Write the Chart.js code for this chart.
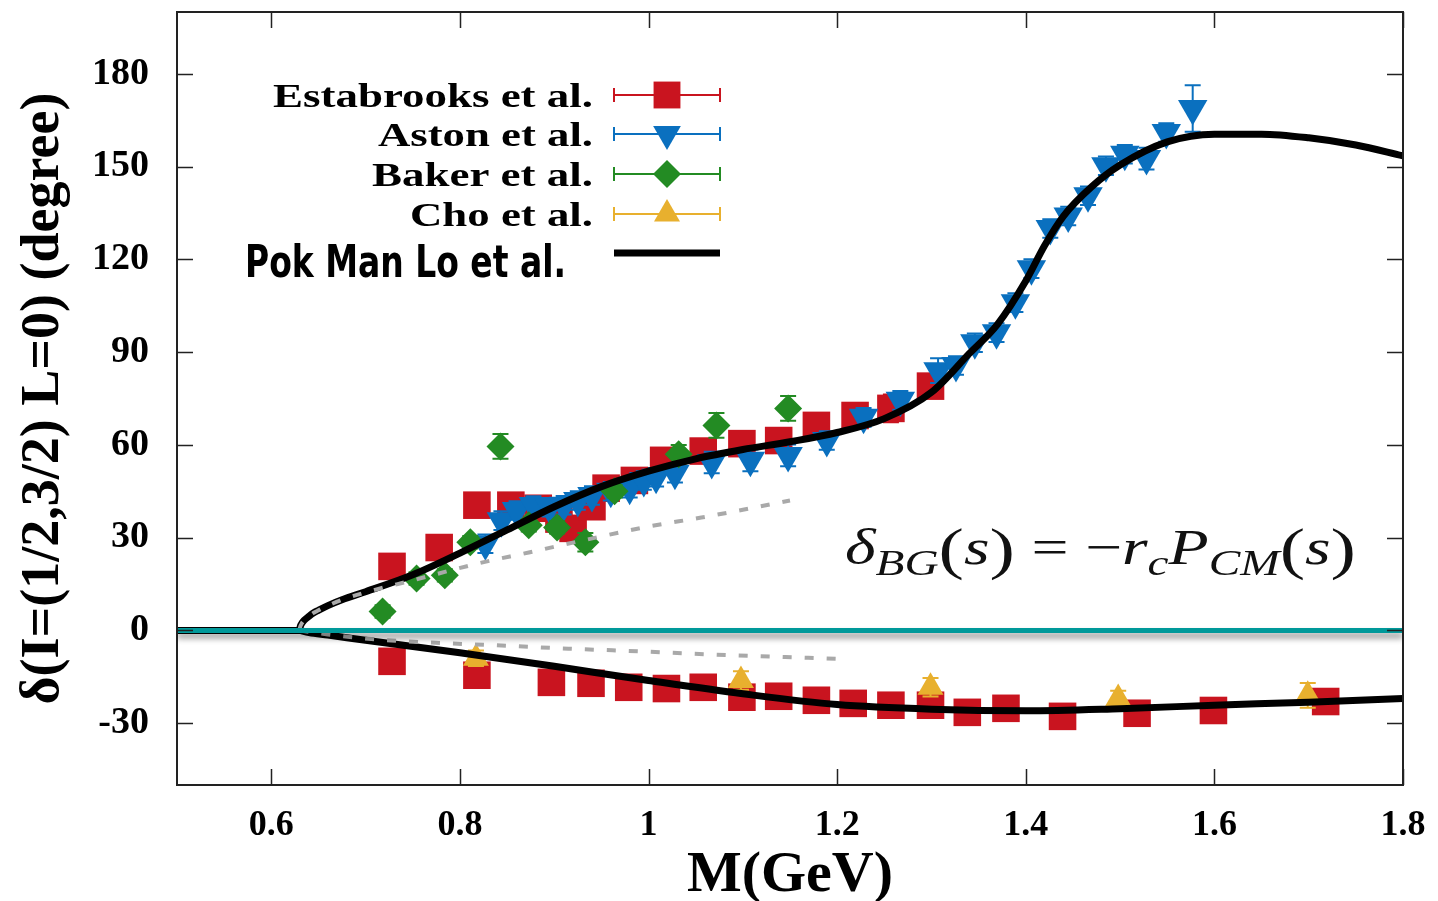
<!DOCTYPE html>
<html>
<head>
<meta charset="utf-8">
<script src="https://cdn.jsdelivr.net/npm/chart.js@4.4.1/dist/chart.umd.min.js"></script>
<style>
  html, body { margin: 0; padding: 0; background: #fff; }
</style>
</head>
<body>
<canvas id="phaseChart" width="1438" height="901"></canvas>
<script>
// axis ticks
var xTicks = [0.6, 0.8, 1.0, 1.2, 1.4, 1.6, 1.8];
var yTicks = [-30, 0, 30, 60, 90, 120, 150, 180];

// Estabrooks et al. (upper branch then lower branch)
var estabrooksM = [0.728, 0.778, 0.818, 0.854, 0.883, 0.905, 0.92, 0.94, 0.955, 0.985, 1.016, 1.058, 1.099, 1.138, 1.178, 1.219, 1.257, 1.299,
  0.728, 0.818, 0.897, 0.939, 0.979, 1.019, 1.058, 1.099, 1.138, 1.178, 1.217, 1.257, 1.299, 1.338, 1.379, 1.439, 1.518, 1.599, 1.718];
var estabrooksDeg = [20.7, 26.8, 40.5, 40.5, 39.5, 36, 33, 40, 46, 48.5, 55, 58, 60.4, 61.4, 66.3, 69.5, 71.8, 79,
  -10, -14.5, -16.8, -17.1, -18.4, -18.8, -18.4, -21.6, -21.3, -22.6, -23.6, -24.2, -24.2, -26.5, -25.2, -27.8, -26.8, -25.9, -23];
var estabrooksErr = [2, 2, 2, 2, 2, 2, 2, 2, 2, 2, 2, 2, 2, 2, 2, 2, 4.5, 2,
  2, 2, 2, 2, 2, 2, 2, 2, 2, 2, 2, 2, 2, 2, 2, 2, 2, 2, 2];

// Aston et al.
var astonM = [0.827, 0.844, 0.86, 0.878, 0.895, 0.91, 0.925, 0.94, 0.96, 0.98, 0.995, 1.008, 1.028, 1.067, 1.108, 1.148, 1.189, 1.228,
  1.267, 1.307, 1.326, 1.346, 1.369, 1.389, 1.406, 1.426, 1.445, 1.466, 1.485, 1.505, 1.528, 1.549, 1.577];
var astonDeg = [28, 35.5, 38.8, 40.4, 39.8, 40.5, 42, 43.6, 45, 46, 48.5, 49.5, 50.8, 54.3, 55, 56.6, 61.4, 68.9,
  74.4, 84, 85.7, 93, 96.3, 106, 117, 130, 134, 140.6, 150.3, 154, 152.6, 161, 168.8];
var astonErr = [3, 3, 3, 3, 3, 3, 3, 3, 3, 3, 3, 3, 3, 3.5, 3.5, 3.5, 3, 3,
  3, 4, 3, 3, 3, 3, 3, 3, 3, 3, 3, 3, 3.5, 3, 7.5];

// Baker et al.
var bakerM = [0.718, 0.754, 0.784, 0.811, 0.843, 0.873, 0.903, 0.933, 0.964, 1.032, 1.072, 1.148];
var bakerDeg = [6.1, 16.8, 17.8, 28.5, 59.5, 34, 33.3, 28.5, 45, 57, 66.3, 71.8];
var bakerErr = [2, 2, 2, 2, 4, 2, 2, 3, 2, 3, 4, 4];

// Cho et al.
var choM = [0.817, 1.098, 1.299, 1.498, 1.699];
var choDeg = [-9, -16.2, -18.4, -22, -21];
var choErr = [2.5, 3, 3, 2.5, 4];

// Pok Man Lo et al. model curves
var pokUpperM = [0.5, 0.63, 0.6305, 0.632, 0.635, 0.64, 0.645, 0.65, 0.66, 0.675, 0.7, 0.75, 0.8, 0.85, 0.9, 0.95, 1.0, 1.05, 1.1, 1.15,
  1.2, 1.25, 1.3, 1.34, 1.37, 1.4, 1.42, 1.44, 1.47, 1.5, 1.55, 1.6, 1.65, 1.7, 1.75, 1.8];
var pokUpperDeg = [0, 0, 1, 2.1, 3.3, 4.6, 5.7, 6.5, 8, 9.9, 12.5, 18, 25, 32.5, 40, 46.5, 51.5, 55.5, 58.5, 61,
  64, 68.5, 77, 89.5, 99, 113, 124.5, 134, 143.5, 150.5, 158, 160.5, 160.5, 159.3, 157, 153.5];
var pokLowerM = [0.63, 0.64, 0.66, 0.7, 0.8, 0.9, 1.0, 1.1, 1.2, 1.3, 1.4, 1.5, 1.6, 1.7, 1.8];
var pokLowerDeg = [0, -0.7, -1.5, -3.2, -7.2, -11.6, -16.2, -20.5, -24, -25.5, -26, -25.3, -24.2, -23.2, -22];

// background phase (grey dashed)
var bgUpperM = [0.63, 0.6305, 0.632, 0.635, 0.64, 0.645, 0.65, 0.66, 0.675, 0.7, 0.75, 0.82, 0.873, 0.929, 1.0, 1.056, 1.1, 1.15];
var bgUpperDeg = [0, 1, 2.1, 3.3, 4.6, 5.7, 6.5, 8, 9.9, 12.3, 16.2, 21.7, 25.2, 29, 33.6, 36.5, 39, 42];
var bgLowerM = [0.63, 0.66, 0.703, 0.76, 0.838, 0.915, 0.993, 1.067, 1.145, 1.2];
var bgLowerDeg = [0, -1.3, -2.7, -3.8, -4.8, -5.9, -6.8, -7.8, -8.6, -9.2];

var zeroM = [0.5, 1.8];
var zeroDeg = [0, 0];

var RED = '#c9141f', BLUE = '#0a70bf', GREEN = '#238b23', YELLOW = '#e8b02e', TEAL = '#00999a';

function pts(xs, ys) {
  return xs.map(function (x, i) { return { x: x, y: ys[i] }; });
}

// error bars, drawn just under each marker set
var errorBars = {
  id: 'errorBars',
  beforeDatasetDraw: function (chart, args) {
    var ds = chart.data.datasets[args.index];
    if (!ds.errors) return;
    var ctx = chart.ctx, xs = chart.scales.x, ys = chart.scales.y;
    ctx.save();
    ctx.strokeStyle = ds.backgroundColor;
    ctx.lineWidth = 2;
    ds.data.forEach(function (p, i) {
      var px = xs.getPixelForValue(p.x);
      var t = ys.getPixelForValue(p.y + ds.errors[i]);
      var b = ys.getPixelForValue(p.y - ds.errors[i]);
      ctx.beginPath();
      ctx.moveTo(px, t); ctx.lineTo(px, b);
      ctx.moveTo(px - 8, t); ctx.lineTo(px + 8, t);
      ctx.moveTo(px - 8, b); ctx.lineTo(px + 8, b);
      ctx.stroke();
    });
    ctx.restore();
  }
};

// soft shadow under the zero line
var zeroShadow = {
  id: 'zeroShadow',
  beforeDatasetDraw: function (chart, args) {
    if (!chart.data.datasets[args.index].shadow) return;
    var ctx = chart.ctx;
    ctx.save();
    ctx.shadowColor = 'rgba(0,0,0,0.45)';
    ctx.shadowBlur = 6;
    ctx.shadowOffsetY = 5;
  },
  afterDatasetDraw: function (chart, args) {
    if (!chart.data.datasets[args.index].shadow) return;
    chart.ctx.restore();
  }
};

// box frame with inward ticks on all four sides
var frame = {
  id: 'frame',
  afterDatasetsDraw: function (chart) {
    var ctx = chart.ctx, a = chart.chartArea, xs = chart.scales.x, ys = chart.scales.y;
    var len = 16;
    ctx.save();
    ctx.strokeStyle = '#222';
    ctx.lineWidth = 2;
    ctx.strokeRect(a.left, a.top, a.right - a.left, a.bottom - a.top);
    ctx.lineWidth = 1.5;
    ctx.beginPath();
    xTicks.forEach(function (v) {
      var px = Math.round(xs.getPixelForValue(v)) + 0.5;
      ctx.moveTo(px, a.bottom); ctx.lineTo(px, a.bottom - len);
      ctx.moveTo(px, a.top); ctx.lineTo(px, a.top + len);
    });
    yTicks.forEach(function (v) {
      var py = Math.round(ys.getPixelForValue(v)) + 0.5;
      ctx.moveTo(a.left, py); ctx.lineTo(a.left + len, py);
      ctx.moveTo(a.right, py); ctx.lineTo(a.right - len, py);
    });
    ctx.stroke();
    ctx.restore();
  }
};

function fitText(ctx, text, xRight, y, width) {
  var w = ctx.measureText(text).width;
  ctx.save();
  ctx.translate(xRight - width, y);
  ctx.scale(width / w, 1);
  ctx.textAlign = 'left';
  ctx.fillText(text, 0, 0);
  ctx.restore();
}

// legend drawn in the gnuplot way: label on the left, sample on the right
var legendRows = [
  { label: 'Estabrooks et al.', color: RED, style: 'rect', radius: 19, rot: 0, y: 95, width: 320 },
  { label: 'Aston et al.', color: BLUE, style: 'triangle', radius: 16, rot: 180, y: 134, width: 215 },
  { label: 'Baker et al.', color: GREEN, style: 'rectRot', radius: 14, rot: 0, y: 174, width: 221 },
  { label: 'Cho et al.', color: YELLOW, style: 'triangle', radius: 15, rot: 0, y: 214, width: 183 }
];

var legendBox = {
  id: 'legendBox',
  afterDraw: function (chart) {
    var ctx = chart.ctx;
    ctx.save();
    ctx.fillStyle = '#000';
    ctx.textBaseline = 'alphabetic';
    legendRows.forEach(function (r) {
      ctx.font = 'bold 34px "Liberation Serif", "Times New Roman", serif';
      ctx.fillStyle = '#000';
      fitText(ctx, r.label, 593, r.y + 12, r.width);
      ctx.strokeStyle = r.color;
      ctx.lineWidth = 2;
      ctx.beginPath();
      ctx.moveTo(614, r.y); ctx.lineTo(720, r.y);
      ctx.moveTo(614, r.y - 7); ctx.lineTo(614, r.y + 7);
      ctx.moveTo(720, r.y - 7); ctx.lineTo(720, r.y + 7);
      ctx.stroke();
      ctx.fillStyle = r.color;
      Chart.helpers.drawPoint(ctx, { pointStyle: r.style, radius: r.radius, rotation: r.rot, borderWidth: 0 }, 667, r.y);
    });
    ctx.fillStyle = '#000';
    ctx.font = 'bold 44px "Liberation Sans Narrow", "DejaVu Sans Condensed", "Liberation Sans", sans-serif';
    fitText(ctx, 'Pok Man Lo et al.', 566, 277, 321);
    ctx.strokeStyle = '#000';
    ctx.lineWidth = 7;
    ctx.beginPath();
    ctx.moveTo(614, 253); ctx.lineTo(720, 253);
    ctx.stroke();
    ctx.restore();
  }
};

// formula annotation
var formulaParts = [
  ['\u03b4', 'italic', 50, 0], ['BG', 'italic', 36, 11], ['(', 'normal', 58, 4], ['s', 'italic', 50, 0], [')', 'normal', 58, 4],
  [' = ', 'normal', 50, 0], ['\u2212', 'normal', 50, 0], ['r', 'italic', 50, 0], ['c', 'italic', 36, 11],
  ['P', 'italic', 50, 0], ['CM', 'italic', 36, 11], ['(', 'normal', 58, 4], ['s', 'italic', 50, 0], [')', 'normal', 58, 4]
];

var formula = {
  id: 'formula',
  afterDraw: function (chart) {
    var ctx = chart.ctx;
    function fontOf(p) { return p[1] + ' ' + p[2] + 'px "Liberation Serif", "Times New Roman", serif'; }
    var total = 0;
    formulaParts.forEach(function (p) { ctx.font = fontOf(p); total += ctx.measureText(p[0]).width; });
    var left = 845, right = 1356, base = 564;
    ctx.save();
    ctx.translate(left, 0);
    ctx.scale((right - left) / total, 1);
    ctx.fillStyle = '#111';
    ctx.textAlign = 'left';
    ctx.textBaseline = 'alphabetic';
    var x = 0;
    formulaParts.forEach(function (p) {
      ctx.font = fontOf(p);
      ctx.fillText(p[0], x, base + p[3]);
      x += ctx.measureText(p[0]).width;
    });
    ctx.restore();
  }
};

var lineSet = function (xs, ys, color, width, dash) {
  return {
    data: pts(xs, ys), showLine: true, borderColor: color, borderWidth: width, borderDash: dash || [],
    pointRadius: 0, pointHoverRadius: 0, cubicInterpolationMode: 'monotone', fill: false
  };
};

var markerSet = function (xs, ys, errs, color, style, radius, rot) {
  return {
    data: pts(xs, ys), errors: errs, showLine: false, backgroundColor: color, borderColor: color, borderWidth: 0,
    pointStyle: style, pointRadius: radius, pointHoverRadius: radius, pointRotation: rot
  };
};

var zero = lineSet(zeroM, zeroDeg, TEAL, 5);
zero.shadow = true;
zero.cubicInterpolationMode = 'default';

function noPad(s) {
  s.paddingTop = 0; s.paddingBottom = 0; s.paddingLeft = 0; s.paddingRight = 0;
}

new Chart(document.getElementById('phaseChart'), {
  type: 'scatter',
  data: {
    datasets: [
      zero,
      lineSet(bgUpperM, bgUpperDeg, '#a9a9a9', 4, [9, 13]),
      lineSet(bgLowerM, bgLowerDeg, '#a9a9a9', 4, [9, 13]),
      lineSet(pokUpperM, pokUpperDeg, '#000', 7),
      lineSet(pokLowerM, pokLowerDeg, '#000', 7),
      markerSet(choM, choDeg, choErr, YELLOW, 'triangle', 15, 0),
      markerSet(bakerM, bakerDeg, bakerErr, GREEN, 'rectRot', 14, 0),
      markerSet(astonM, astonDeg, astonErr, BLUE, 'triangle', 17, 180),
      markerSet(estabrooksM, estabrooksDeg, estabrooksErr, RED, 'rect', 19.5, 0)
    ]
  },
  options: {
    responsive: false,
    animation: false,
    layout: { autoPadding: false, padding: { top: 12, right: 35, left: 0, bottom: 0 } },
    plugins: { legend: { display: false }, tooltip: { enabled: false } },
    scales: {
      x: {
        type: 'linear', min: 0.5, max: 1.8,
        grid: { display: false }, border: { display: false },
        afterBuildTicks: function (s) { s.ticks = xTicks.map(function (v) { return { value: v }; }); },
        afterFit: function (s) { s.height = 116; noPad(s); },
        ticks: {
          autoSkip: false, maxRotation: 0, padding: 11, color: '#000',
          font: { family: '"Liberation Serif", serif', weight: 'bold', size: 36 },
          callback: function (v) { return String(v); }
        },
        title: {
          display: true, text: 'M(GeV)', color: '#000', padding: 0,
          font: { family: '"Liberation Serif", serif', weight: 'bold', size: 58, lineHeight: 0.85 }
        }
      },
      y: {
        type: 'linear', min: -50, max: 200,
        grid: { display: false }, border: { display: false },
        afterBuildTicks: function (s) { s.ticks = yTicks.map(function (v) { return { value: v }; }); },
        afterFit: function (s) { s.width = 177; noPad(s); },
        ticks: {
          autoSkip: false, padding: 20, color: '#000',
          font: { family: '"Liberation Serif", serif', weight: 'bold', size: 38, lineHeight: 0.5 }
        },
        title: {
          display: true, text: '\u03b4(I=(1/2,3/2) L=0) (degree)', color: '#000', padding: { top: 12, bottom: 0 },
          font: { family: '"Liberation Serif", serif', weight: 'bold', size: 54, lineHeight: 1.2 }
        }
      }
    }
  },
  plugins: [errorBars, zeroShadow, frame, legendBox, formula]
});
</script>
</body>
</html>
